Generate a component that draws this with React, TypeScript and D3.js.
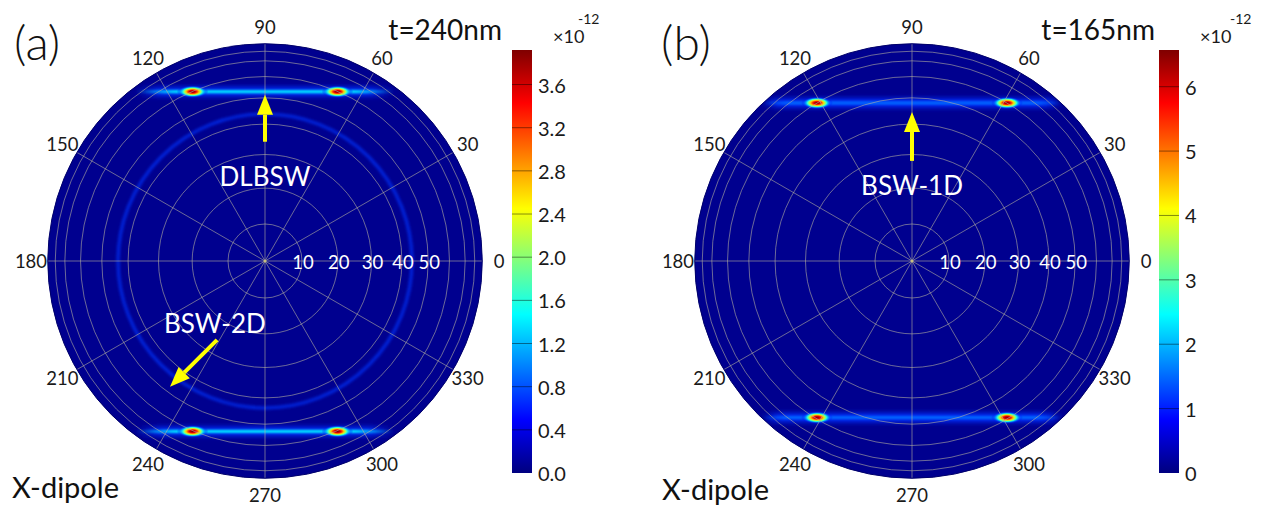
import React from "react";
import * as d3 from "d3";

const WIDTH = 1266;
const HEIGHT = 511;
const FONT = "Lato, 'Open Sans', sans-serif";

// polar grid (radius is sin of the polar angle)
const ANGLE_TICKS = [0, 30, 60, 90, 120, 150, 180, 210, 240, 270, 300, 330];
const RING_DEGREES = [10, 20, 30, 40, 50, 60, 70, 80];
const RING_LABELS = [10, 20, 30, 40, 50];
const DISK_EDGE = 1.02;

// jet colormap
const JET_COLORS = ["#00007f", "#0000ff", "#007fff", "#00ffff", "#7fff7f", "#ffff00", "#ff7f00", "#ff0000", "#7f0000"];

// panel (a) t=240nm
const A_BAND_KY = [0.795, -0.8];
const A_BAND_CORE = 0.42;
const A_BAND_TAIL = 0.6;
const A_BAND_VALUE = 1.4;
const A_SPOT_KX = [-0.34, 0.34];
const A_SPOT_VALUE = 3.9;
const A_RING_R = [0.69];
const A_RING_VALUE = 0.7;
const A_CBAR_MAX = 3.92;
const A_CBAR_TICKS = [0, 0.4, 0.8, 1.2, 1.6, 2.0, 2.4, 2.8, 3.2, 3.6];

// panel (b) t=165nm
const B_BAND_KY = [0.742, -0.735];
const B_BAND_CORE = 0.58;
const B_BAND_TAIL = 0.7;
const B_BAND_VALUE = 1.5;
const B_SPOT_KX = [-0.446, 0.446];
const B_SPOT_VALUE = 6.5;
const B_RING_R: number[] = [];
const B_RING_VALUE = 0;
const B_CBAR_MAX = 6.57;
const B_CBAR_TICKS = [0, 1, 2, 3, 4, 5, 6];

// annotations: [tailKx, tailKy, tipKx, tipKy]
const A_ARROWS = [[0, 0.56, 0, 0.78], [-0.225, -0.37, -0.446, -0.59]];
const A_NOTES = [{ text: "DLBSW", kx: 0, ky: 0.4 }, { text: "BSW-2D", kx: -0.235, ky: -0.29 }];
const B_ARROWS = [[0, 0.47, 0, 0.7]];
const B_NOTES = [{ text: "BSW-1D", kx: 0, ky: 0.355 }];

const jet = d3
  .scaleLinear<string>()
  .domain(d3.range(9).map((i) => i / 8))
  .range(JET_COLORS)
  .interpolate(d3.interpolateRgb)
  .clamp(true);

const rScale = d3.scaleLinear().domain([0, 1]).range([0, 213]);

type PanelProps = {
  id: string;
  cx: number;
  cy: number;
  letter: string;
  thickness: string;
  thicknessEnd: number;
  dipoleX: number;
  dipoleY: number;
  bandKy: number[];
  bandCore: number;
  bandTail: number;
  bandValue: number;
  spotKx: number[];
  spotValue: number;
  ringR: number[];
  ringValue: number;
  arrows: number[][];
  notes: { text: string; kx: number; ky: number }[];
  cbarX: number;
  cbarMax: number;
  cbarTicks: number[];
  cbarFormat: (v: number) => string;
  supOffset: number;
};

function Panel(p: PanelProps) {
  const { id, cx, cy, cbarMax } = p;
  const px = (kx: number) => cx + rScale(kx);
  const py = (ky: number) => cy - rScale(ky);
  const diskR = rScale(DISK_EDGE);
  const rad = (d: number) => (d * Math.PI) / 180;

  const cbarY = d3.scaleLinear().domain([0, cbarMax]).range([473, 50]);

  const spotStops = d3.range(0, 1.0001, 0.1).map((t) => ({
    offset: t,
    color: jet((p.spotValue / cbarMax) * Math.exp(-2.4 * t * t)),
    opacity: t < 0.6 ? 1 : Math.max(0, (1 - t) / 0.4),
  }));

  const fadeAt = (p.bandTail - p.bandCore) / (2 * p.bandTail);
  const bandColor = jet(p.bandValue / cbarMax);

  return (
    <g>
      <defs>
        <clipPath id={`clip-${id}`}>
          <circle cx={cx} cy={cy} r={diskR} />
        </clipPath>
        <radialGradient id={`spot-${id}`}>
          {spotStops.map((s, i) => (
            <stop key={i} offset={s.offset} stopColor={s.color} stopOpacity={s.opacity} />
          ))}
        </radialGradient>
        <linearGradient id={`band-${id}`} x1="0" x2="1" y1="0" y2="0">
          <stop offset={0} stopColor={bandColor} stopOpacity={0} />
          <stop offset={fadeAt} stopColor={bandColor} stopOpacity={1} />
          <stop offset={1 - fadeAt} stopColor={bandColor} stopOpacity={1} />
          <stop offset={1} stopColor={bandColor} stopOpacity={0} />
        </linearGradient>
        <linearGradient id={`halo-${id}`} x1="0" x2="1" y1="0" y2="0">
          <stop offset={0} stopColor={jet(0.17)} stopOpacity={0} />
          <stop offset={fadeAt * 0.6} stopColor={jet(0.17)} stopOpacity={0.95} />
          <stop offset={1 - fadeAt * 0.6} stopColor={jet(0.17)} stopOpacity={0.95} />
          <stop offset={1} stopColor={jet(0.17)} stopOpacity={0} />
        </linearGradient>
        <filter id={`blur-${id}`} x="-20%" y="-200%" width="140%" height="500%">
          <feGaussianBlur stdDeviation="2 1.3" />
        </filter>
        <filter id={`blurw-${id}`} x="-20%" y="-200%" width="140%" height="500%">
          <feGaussianBlur stdDeviation="4 2.8" />
        </filter>
        <filter id={`blurr-${id}`} x="-20%" y="-20%" width="140%" height="140%">
          <feGaussianBlur stdDeviation="1.8" />
        </filter>
        <linearGradient id={`cbar-${id}`} x1="0" x2="0" y1="1" y2="0">
          {JET_COLORS.map((c, i) => (
            <stop key={i} offset={i / 8} stopColor={c} />
          ))}
        </linearGradient>
      </defs>

      {/* field */}
      <circle cx={cx} cy={cy} r={diskR} fill={jet(0.016)} />
      <g clipPath={`url(#clip-${id})`}>
        {p.ringR.map((r, i) => (
          <circle
            key={i}
            cx={cx}
            cy={cy}
            r={rScale(r)}
            fill="none"
            stroke={jet(p.ringValue / cbarMax)}
            strokeWidth={3}
            opacity={0.75}
            filter={`url(#blurr-${id})`}
          />
        ))}
        {p.bandKy.map((ky, i) => (
          <g key={i}>
            <rect
              x={px(-p.bandTail)}
              width={rScale(2 * p.bandTail)}
              y={py(ky) - 4.5}
              height={9}
              fill={`url(#halo-${id})`}
              filter={`url(#blurw-${id})`}
            />
            <rect
              x={px(-p.bandTail)}
              width={rScale(2 * p.bandTail)}
              y={py(ky) - 1.5}
              height={3}
              fill={`url(#band-${id})`}
              filter={`url(#blur-${id})`}
            />
          </g>
        ))}
        {p.bandKy.map((ky, i) =>
          p.spotKx.map((kx, j) => (
            <ellipse key={`${i}-${j}`} cx={px(kx)} cy={py(ky)} rx={16} ry={6.5} fill={`url(#spot-${id})`} />
          ))
        )}
      </g>

      {/* grid */}
      <g stroke="#b4b0a0" strokeOpacity={0.75} strokeWidth={0.8} fill="none">
        {RING_DEGREES.map((d) => (
          <circle key={d} cx={cx} cy={cy} r={rScale(Math.sin(rad(d)))} />
        ))}
        {ANGLE_TICKS.map((a) => (
          <line
            key={a}
            x1={cx}
            y1={cy}
            x2={cx + diskR * Math.cos(rad(a))}
            y2={cy - diskR * Math.sin(rad(a))}
          />
        ))}
      </g>
      <circle cx={cx} cy={cy} r={diskR} fill="none" stroke="#00006a" strokeWidth={1} />
      <circle cx={cx} cy={cy} r={1.5} fill="#c8c080" />

      {/* radial labels */}
      {RING_LABELS.map((d) => (
        <text
          key={d}
          x={cx + rScale(Math.sin(rad(d))) + 1}
          y={cy + 1}
          fill="#ffffff"
          fontSize={18.5}
          fontFamily={FONT}
          textAnchor="middle"
          dominantBaseline="central"
        >
          {d}
        </text>
      ))}

      {/* angle labels */}
      {ANGLE_TICKS.map((a) => (
        <text
          key={a}
          x={cx + 234 * Math.cos(rad(a))}
          y={cy - 234 * Math.sin(rad(a))}
          fill="#1a1a1a"
          fontSize={18.5}
          fontFamily={FONT}
          textAnchor="middle"
          dominantBaseline="central"
        >
          {a}
        </text>
      ))}

      {/* annotations */}
      {p.arrows.map(([tx, ty, hx, hy], i) => {
        const x0 = px(tx), y0 = py(ty), x1 = px(hx), y1 = py(hy);
        const len = Math.hypot(x1 - x0, y1 - y0);
        const ux = (x1 - x0) / len, uy = (y1 - y0) / len;
        const hl = 20, hw = 8;
        const bx = x1 - ux * hl, by = y1 - uy * hl;
        return (
          <g key={i}>
            <line x1={x0} y1={y0} x2={bx} y2={by} stroke="#ffff00" strokeWidth={4} />
            <polygon
              points={`${x1},${y1} ${bx - uy * hw},${by + ux * hw} ${bx + uy * hw},${by - ux * hw}`}
              fill="#ffff00"
            />
          </g>
        );
      })}
      {p.notes.map((n, i) => (
        <text
          key={i}
          x={px(n.kx)}
          y={py(n.ky)}
          fill="#ffffff"
          fontSize={26}
          fontFamily={FONT}
          textAnchor="middle"
          dominantBaseline="central"
        >
          {n.text}
        </text>
      ))}

      {/* titles */}
      <text x={p.cx - 251} y={60} fontSize={48} fontFamily={FONT} fontWeight={300} fill="#111">
        {p.letter}
      </text>
      <text x={p.thicknessEnd} y={40} fontSize={28} fontFamily={FONT} fill="#111" textAnchor="end">
        {p.thickness}
      </text>
      <text x={p.dipoleX} y={p.dipoleY} fontSize={29} fontFamily={FONT} fill="#111">
        X-dipole
      </text>

      {/* colorbar */}
      <rect x={p.cbarX} y={50} width={20} height={423} fill={`url(#cbar-${id})`} />
      {p.cbarTicks.map((t) => (
        <g key={t}>
          {t > 0 && (
            <line
              x1={p.cbarX}
              x2={p.cbarX + 20}
              y1={cbarY(t)}
              y2={cbarY(t)}
              stroke="#000"
              strokeOpacity={0.45}
              strokeWidth={1}
            />
          )}
          <text
            x={p.cbarX + 26}
            y={cbarY(t)}
            fontSize={20}
            fontFamily={FONT}
            fill="#1a1a1a"
            dominantBaseline="central"
          >
            {p.cbarFormat(t)}
          </text>
        </g>
      ))}
      <text x={p.cbarX + 41} y={43} fontSize={18} fontFamily={FONT} fill="#1a1a1a">
        ×10
      </text>
      <text x={p.cbarX + p.supOffset} y={24} fontSize={14} fontFamily={FONT} fill="#1a1a1a">
        -12
      </text>
    </g>
  );
}

export default function App() {
  return (
    <div style={{ position: "absolute", left: 0, top: 0 }}>
      <svg width={WIDTH} height={HEIGHT} style={{ display: "block", background: "#fff" }}>
        <Panel
          id="a"
          cx={265}
          cy={261}
          letter="(a)"
          thickness="t=240nm"
          thicknessEnd={502}
          dipoleX={12}
          dipoleY={498}
          bandKy={A_BAND_KY}
          bandCore={A_BAND_CORE}
          bandTail={A_BAND_TAIL}
          bandValue={A_BAND_VALUE}
          spotKx={A_SPOT_KX}
          spotValue={A_SPOT_VALUE}
          ringR={A_RING_R}
          ringValue={A_RING_VALUE}
          arrows={A_ARROWS}
          notes={A_NOTES}
          cbarX={512}
          cbarMax={A_CBAR_MAX}
          cbarTicks={A_CBAR_TICKS}
          cbarFormat={d3.format(".1f")}
          supOffset={66}
        />
        <Panel
          id="b"
          cx={912}
          cy={261}
          letter="(b)"
          thickness="t=165nm"
          thicknessEnd={1155}
          dipoleX={662}
          dipoleY={500}
          bandKy={B_BAND_KY}
          bandCore={B_BAND_CORE}
          bandTail={B_BAND_TAIL}
          bandValue={B_BAND_VALUE}
          spotKx={B_SPOT_KX}
          spotValue={B_SPOT_VALUE}
          ringR={B_RING_R}
          ringValue={B_RING_VALUE}
          arrows={B_ARROWS}
          notes={B_NOTES}
          cbarX={1159}
          cbarMax={B_CBAR_MAX}
          cbarTicks={B_CBAR_TICKS}
          cbarFormat={d3.format("d")}
          supOffset={71}
        />
      </svg>
    </div>
  );
}
